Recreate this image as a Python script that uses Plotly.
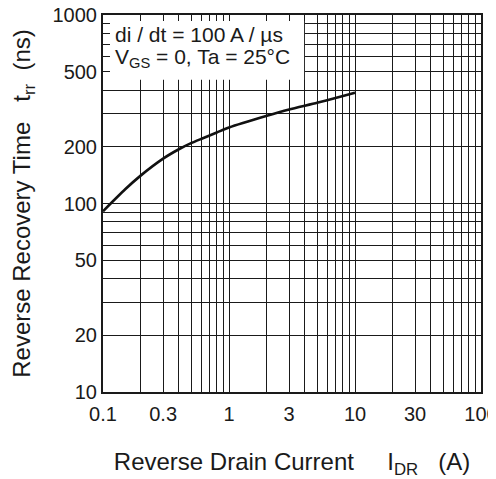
import plotly.graph_objects as go

# Data
current_a = [0.1, 0.15, 0.2, 0.3, 0.4, 0.5, 0.6, 0.8, 1, 2, 3, 5, 7, 10]
trr_ns = [91, 119, 141, 173, 194, 209, 220, 238, 253, 292, 315, 342, 363, 387]

x_labeled = {0.1: "0.1", 0.3: "0.3", 1: "1", 3: "3", 10: "10", 30: "30", 100: "100"}
y_labeled = {10: "10", 20: "20", 50: "50", 100: "100", 200: "200", 500: "500", 1000: "1000"}

def decade_vals(lo_exp, hi_exp):
    vals = []
    for e in range(lo_exp, hi_exp):
        for m in range(1, 10):
            vals.append(round(m * 10 ** e, 6))
    vals.append(round(10 ** hi_exp, 6))
    return vals

x_vals = decade_vals(-1, 2)
y_vals = decade_vals(1, 3)

def label_for(v, table):
    for k, t in table.items():
        if abs(v - k) < 1e-9 * max(1, k):
            return t
    return ""

x_text = [label_for(v, x_labeled) for v in x_vals]
y_text = [label_for(v, y_labeled) for v in y_vals]

FONT = "Liberation Sans, Arial, Helvetica, sans-serif"
NB = "\u00a0"

fig = go.Figure()
fig.add_trace(go.Scatter(
    x=current_a, y=trr_ns, mode="lines",
    line=dict(color="#111111", width=2.6, shape="spline", smoothing=0.6),
    hoverinfo="skip", showlegend=False,
))

axis_common = dict(
    type="log",
    automargin=False,
    showgrid=True, gridcolor="#1a1a1a", gridwidth=1,
    showline=True, linecolor="#1a1a1a", linewidth=2, mirror="ticks",
    ticks="inside", ticklen=7, tickcolor="#1a1a1a", tickwidth=1,
    zeroline=False,
    ticklabeloverflow="allow",
    tickfont=dict(family=FONT, size=20, color="#1a1a1a"),
    title_font=dict(family=FONT, size=24, color="#1a1a1a"),
)

fig.update_xaxes(
    **axis_common,
    range=[-1, 2],
    tickmode="array", tickvals=x_vals, ticktext=x_text,
    ticklabelstandoff=3,
    title_text="Reverse Drain Current" + NB * 5 + "I<sub>DR</sub>" + NB * 3 + "(A)",
    title_standoff=30,
)
fig.update_yaxes(
    **axis_common,
    range=[1, 3],
    tickmode="array", tickvals=y_vals, ticktext=y_text,
    title_text="Reverse Recovery Time" + NB * 3 + "t<sub>rr</sub>" + NB * 2 + "(ns)",
    title_standoff=17,
)

fig.add_shape(
    type="rect", xref="paper", yref="paper",
    x0=0.0185, x1=0.532, y0=0.828, y1=0.984,
    fillcolor="white", line=dict(width=0), layer="above",
)
annot_font = dict(family=FONT, size=21, color="#1a1a1a")
fig.add_annotation(
    xref="paper", yref="paper", x=0.028, y=0.948,
    xanchor="left", yanchor="middle", align="left", showarrow=False,
    text="di / dt = 100 A / µs", font=annot_font, borderpad=0,
)
fig.add_annotation(
    xref="paper", yref="paper", x=0.028, y=0.887,
    xanchor="left", yanchor="middle", align="left", showarrow=False,
    text="V<sub>GS</sub> = 0, Ta = 25°C", font=annot_font, borderpad=0,
)

# The page adds an 8px body margin, so the figure is drawn 8px smaller
# and its margins reduced by 8 to land the plot where the reference has it.
fig.update_layout(
    width=488, height=471,
    margin=dict(l=95, r=15, t=7, b=87),
    paper_bgcolor="white", plot_bgcolor="white",
)

fig.write_html("out.html")
